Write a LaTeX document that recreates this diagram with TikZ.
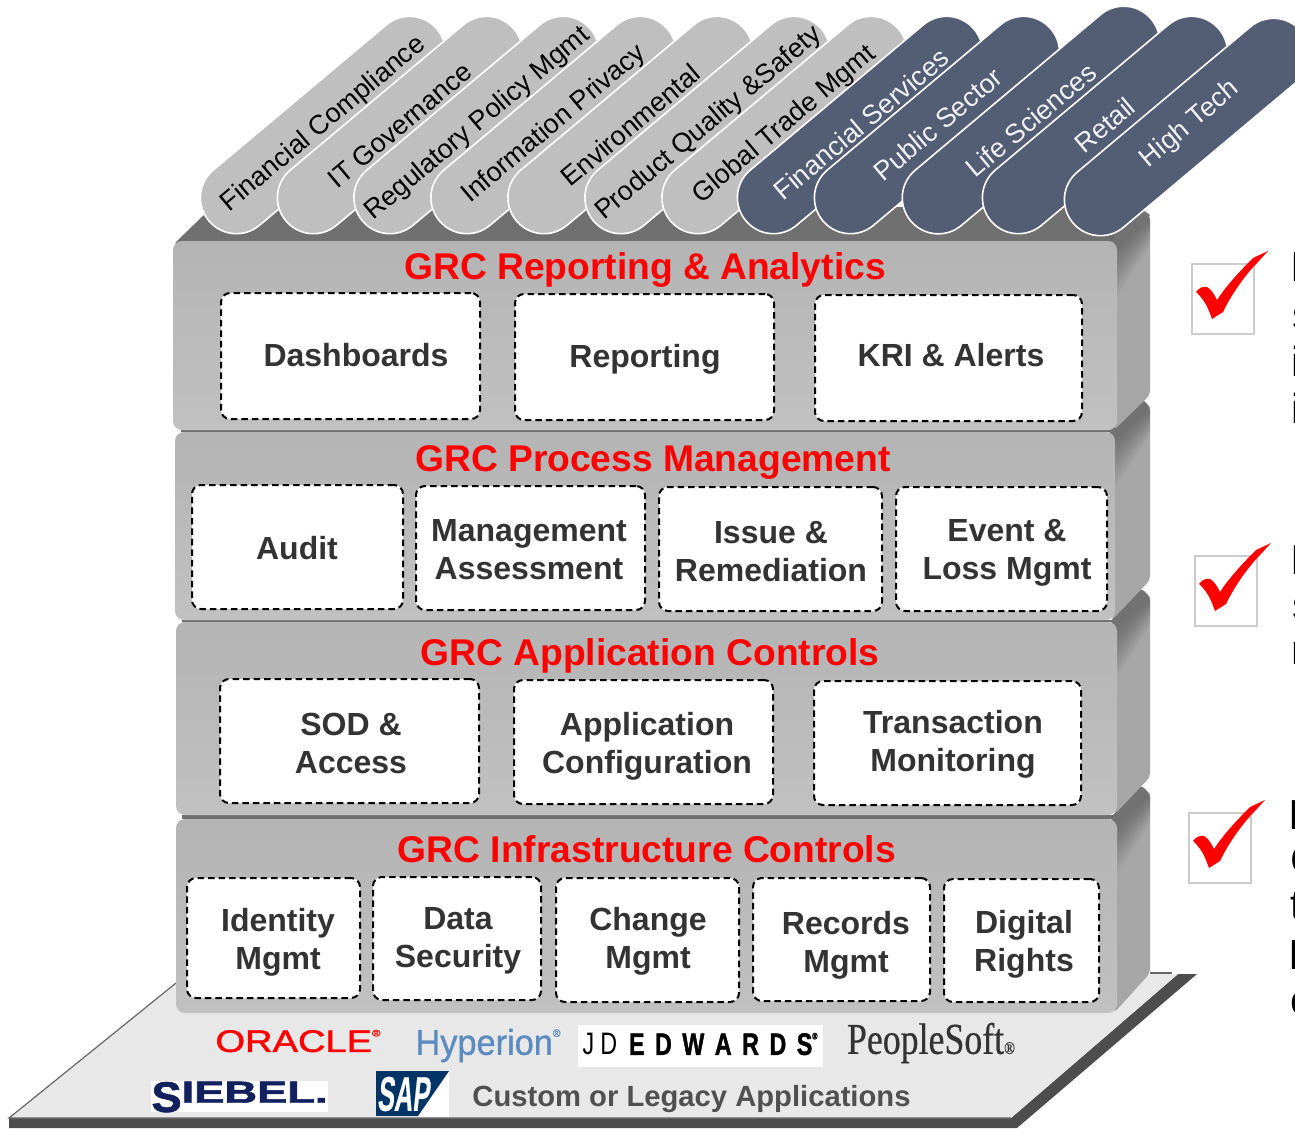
\documentclass[tikz,border=0pt]{standalone}
\usepackage{graphicx}
\usepackage{fontspec}
\setmainfont{Liberation Sans}
\newfontfamily\serifface[FakeBold=.6]{Liberation Serif}
\newfontfamily\oracleface[FakeBold=1.5]{Liberation Sans}
\newfontfamily\hypface[FakeBold=1]{Liberation Sans}
\newfontfamily\heavyface[UprightFont=* Bold,FakeBold=1.5]{Liberation Sans}
\newfontfamily\sapface[UprightFont=* Bold,FakeSlant=.2,FakeBold=.5]{Liberation Sans}
\definecolor{tabgrey}{HTML}{BFBFBF}
\definecolor{tabblue}{HTML}{535E75}
\definecolor{faceA}{HTML}{B4B4B4}
\definecolor{faceB}{HTML}{C1C1C1}
\definecolor{sidegrey}{HTML}{A6A6A6}
\definecolor{topgrey}{HTML}{707070}
\definecolor{labelgrey}{HTML}{333333}
\definecolor{floorgrey}{HTML}{E8E8E8}
\definecolor{floordark}{HTML}{4D4D4D}
\definecolor{navy}{HTML}{12205E}
\definecolor{sapblue}{HTML}{003366}
\definecolor{hypblue}{HTML}{5B8BBF}
\definecolor{customgrey}{HTML}{505050}
\tikzset{
  tabbase/.style={rotate=40,minimum height=72pt,inner sep=0pt,outer sep=0pt,rounded corners=35.9pt,draw=white,line width=1.6pt,font=\fontsize{26.9}{32}\selectfont},
  tabg/.style={tabbase,fill=tabgrey,text=black},
  tabb/.style={tabbase,fill=tabblue,text=white!92!tabblue},
  dbox/.style={draw=black,fill=white,line width=2pt,dash pattern=on 6.5pt off 4pt,rounded corners=9pt,inner sep=0pt,outer sep=0pt},
  lab/.style={font=\bfseries\fontsize{32}{38}\selectfont,text=labelgrey,align=center,inner sep=0pt},
  ttl/.style={font=\bfseries\fontsize{37.2}{40}\selectfont,text=red,inner sep=0pt},
  chkbox/.style={draw=black!20,line width=2.4pt,fill=white,inner sep=0pt,outer sep=0pt,minimum width=62pt,minimum height=70pt},
  frag/.style={font=\fontsize{42}{46}\selectfont,text=black,anchor=west,inner sep=0pt},
  logo/.style={inner sep=0pt}
}
\newcommand\regmark{\raisebox{.5em}{\scalebox{.3}{®}}}
% box: name, x1, y1, x2, y2
\newcommand\gbox[5]{\pgfmathsetmacro\bw{#4-#2}\pgfmathsetmacro\bh{#5-#3}%
  \node[dbox,minimum width=\bw pt,minimum height=\bh pt] (#1) at ({(#2+#4)/2},{(#3+#5)/2}) {};}
% layer: x1, y1, x2, y2, side top, side bottom
\newcommand\glayer[6]{%
  \fill[sidegrey,rounded corners=4pt] (#3-6,#2-2) -- (1142,#5) -- (1150,#5+9) -- (1150,#6) -- (#3-3,#4) -- cycle;
  \foreach \d in {2,4,...,28}{
    \fill[black,opacity=.022] (#3-6,#2-2) -- (1141,#5+1) -- (1150,#5+9) -- (1150,#5+9+\d) -- (#3,#2+5+1.8*\d) -- cycle;}
  \shade[top color=faceA,bottom color=faceB,rounded corners=9pt] (#1,#2) rectangle (#3,#4);
  \draw[topgrey,line width=2pt] (#1+6,#2-1) -- (#3-4,#2-1);}
% check mark at box corner
\newcommand\chkmark[3]{%
  \node[chkbox] (#1) at (#2+31,#3+35) {};
  \fill[red,shift={(#2,#3)}] (76,-13) -- (65,-1) .. controls (55,9) and (40,29) .. (31,48) -- (20,55) .. controls (17,47) and (14,37) .. (4,28) .. controls (7,24) and (11,22) .. (15,23) .. controls (19,25) and (22,30) .. (25,36) .. controls (34,22) and (48,7) .. (61,-6) -- cycle;}
\begin{document}
\begin{tikzpicture}[x=1pt,y=-1pt]
\useasboundingbox (0,0) rectangle (1295,1128);
\clip (0,0) rectangle (1295,1128);
% floor
\fill[floordark] (1178,974) -- (1197,974) -- (1017,1128) -- (9,1128) -- (9,1118) -- (1011,1118) -- cycle;
\fill[floorgrey] (176,983) -- (1178,974) -- (1011,1118) -- (9,1118) -- cycle;
\draw[black!60,line width=1.2pt] (176,983) -- (9,1118) -- (1011,1118);
\draw[black!60,line width=1.2pt] (1150,973) -- (1172,973);
% top face
\fill[topgrey] (175,243) -- (212,207) -- (1140,207) -- (1150,215) -- (1117,243) -- cycle;
% layers
\fill[topgrey] (182,815) rectangle (1113,819);
\glayer{176}{819}{1117}{1013}{785}{973}
\glayer{176}{622}{1117}{815}{588}{777}
\glayer{175}{432}{1115}{620}{398}{580}
\glayer{173}{241}{1117}{430}{208}{395}
% tabs
\node[tabg,minimum width=298pt] (t1) at (323,125) {\hspace*{2pt}Financial Compliance};
\node[tabg,minimum width=298pt] (t2) at (400,125) {IT Governance};
\node[tabg,minimum width=298pt] (t3) at (476.5,125) {\hspace*{3pt}Regulatory Policy Mgmt};
\node[tabg,minimum width=298pt] (t4) at (553.5,125) {\hspace*{2pt}Information Privacy};
\node[tabg,minimum width=298pt] (t5) at (630.5,125) {Environmental};
\node[tabg,minimum width=298pt] (t6) at (707.5,125) {\hspace*{4pt}Product Quality \&Safety};
\node[tabg,minimum width=298pt] (t7) at (784.5,125) {Global Trade Mgmt};
\node[tabb,minimum width=298pt] (b1) at (860,125) {\hspace*{3pt}Financial Services};
\node[tabb,minimum width=298pt] (b2) at (937,125) {\hspace*{2pt}Public Sector};
\node[tabb,minimum width=314pt] (b3) at (1031,120) {Life Sciences};
\node[tabb,minimum width=298pt] (b4) at (1105,125) {Retail};
\node[tabb,minimum width=298pt] (b5) at (1187,127) {\hspace*{8pt}High Tech};
% titles
\node[ttl] (h1) at (645,270) {GRC Reporting \& Analytics};
\node[ttl] (h2) at (653,462) {GRC Process Management};
\node[ttl] (h3) at (650,656) {GRC Application Controls};
\node[ttl] (h4) at (647,849) {GRC Infrastructure Controls};
% boxes
\gbox{a1}{221}{293}{480}{419}
\gbox{a2}{515}{294}{774}{420}
\gbox{a3}{815}{295}{1082}{421}
\gbox{p1}{192}{485}{403}{609}
\gbox{p2}{416}{486}{645}{610}
\gbox{p3}{659}{487}{882}{611}
\gbox{p4}{896}{487}{1107}{611}
\gbox{c1}{220}{679}{479}{803}
\gbox{c2}{514}{680}{773}{804}
\gbox{c3}{814}{681}{1081}{805}
\gbox{i1}{187}{878}{360}{998}
\gbox{i2}{373}{877}{541}{1000}
\gbox{i3}{556}{878}{739}{1002}
\gbox{i4}{753}{878}{930}{1001}
\gbox{i5}{944}{879}{1099}{1002}
% box labels
\node[lab] (la1) at (356,355) {Dashboards};
\node[lab] (la2) at (645,359) {Reporting};
\node[lab] (la3) at (951,355) {KRI \& Alerts};
\node[lab] (lp1) at (297,548) {Audit};
\node[lab] (lp2) at (529,550) {Management\\Assessment};
\node[lab] (lp3) at (771,552) {Issue \&\\Remediation};
\node[lab] (lp4) at (1007,553) {Event \&\\Loss Mgmt};
\node[lab] (lc1) at (351,743) {SOD \&\\Access};
\node[lab] (lc2) at (647,746) {Application\\Configuration};
\node[lab] (lc3) at (953,744) {Transaction\\Monitoring};
\node[lab] (li1) at (278,942) {Identity\\Mgmt};
\node[lab] (li2) at (458,941) {Data\\Security};
\node[lab] (li3) at (648,941) {Change\\Mgmt};
\node[lab] (li4) at (846,945) {Records\\Mgmt};
\node[lab] (li5) at (1024,944) {Digital\\Rights};
% logos
\node[logo,text=red] (oracle) at (298,1041) {\resizebox{165pt}{22pt}{\oracleface ORACLE\regmark}};
\node[logo,text=hypblue] (hyperion) at (488,1045.5) {\resizebox{145pt}{26pt}{\hypface Hyperion\regmark}};
\node[fill=white,minimum width=245pt,minimum height=42pt,inner sep=0pt] (jde) at (700.5,1046) {};
\node[logo] (jdet) at (700,1044) {\resizebox{235pt}{22pt}{J\hspace{.27em}D\hspace{.5em}\heavyface E\hspace{.45em}D\hspace{.45em}W\hspace{.45em}A\hspace{.45em}R\hspace{.45em}D\hspace{.45em}S\regmark}};
\node[logo,text=labelgrey] (psoft) at (931,1043) {\resizebox{168pt}{31pt}{\serifface PeopleSoft\raisebox{0em}{\scalebox{.4}{®}}}};
\node[fill=white,minimum width=177pt,minimum height=31pt,inner sep=0pt] (sieb) at (239.5,1096.5) {};
\node[logo,text=navy] (siebt) at (239.5,1097) {\resizebox{176pt}{21pt}{\heavyface\raisebox{-.3em}{\scalebox{1}[1.4]{S}}IEBEL.}};
\node[fill=white,minimum width=73pt,minimum height=46pt,inner sep=0pt] (sapbg) at (412.5,1094) {};
\fill[sapblue] (376,1071) -- (449,1071) -- (418,1116) -- (376,1116) -- cycle;
\node[logo,text=white] (sapt) at (403,1094) {\resizebox{52pt}{34pt}{\sapface SAP}};
\node[font=\bfseries\fontsize{29.2}{32}\selectfont,text=customgrey,inner sep=0pt] (legacy) at (691.5,1099) {Custom or Legacy Applications};
% check marks
\chkmark{k1}{1192}{264}
\chkmark{k2}{1195}{556}
\chkmark{k3}{1189}{813}
% text fragments cut by the right edge
\node[frag] (f1) at (1290,267) {I};
\node[frag] (f2) at (1292,318) {s};
\node[frag] (f3) at (1291,361) {i};
\node[frag] (f4) at (1291,408) {i};
\node[frag] (f5) at (1290,560) {I};
\node[frag] (f6) at (1292,608) {s};
\node[frag] (f7) at (1291,653) {r};
\node[frag] (f8) at (1288,815) {I};
\node[frag] (f9) at (1290,860) {C};
\node[frag] (f10) at (1290,906) {t};
\node[frag] (f11) at (1288,955) {I};
\node[frag] (f12) at (1290,1003) {c};
\end{tikzpicture}
\end{document}
